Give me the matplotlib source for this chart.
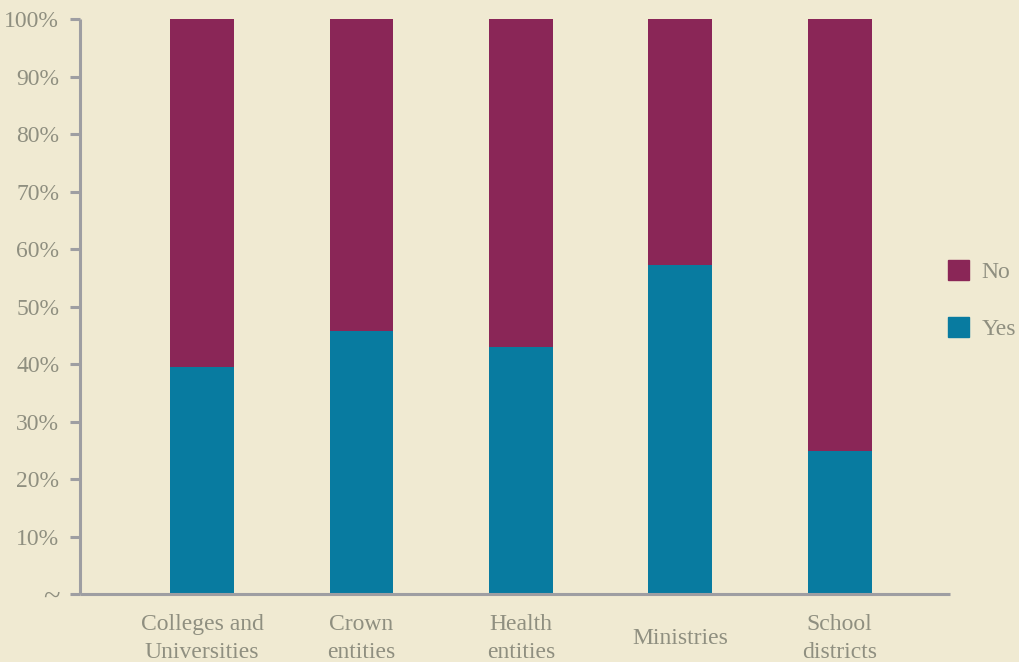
import numpy as np
import matplotlib.pyplot as plt
from matplotlib.patches import Patch

# share of entities answering yes / no, in percent
categories = ["Colleges and\nUniversities", "Crown\nentities", "Health\nentities", "Ministries", "School\ndistricts"]
yes_vals = [39.5, 45.7, 43.0, 57.2, 24.9]
no_vals = [100 - v for v in yes_vals]
tick_vals = [0, 10, 20, 30, 40, 50, 60, 70, 80, 90, 100]
tick_labels = ["~"] + [f"{v}%" for v in tick_vals[1:]]

bg = "#F0EAD2"
teal = "#087BA0"
maroon = "#8A2657"
grey = "#9E9EA2"
txt = "#8F8F80"

plt.rcParams['font.family'] = ['Liberation Serif', 'DejaVu Serif']

fig = plt.figure(figsize=(10.19, 6.62), dpi=100, facecolor=bg)
ax = fig.add_axes([0.0785, 0.1027, 0.8535, 0.8686], facecolor=bg)

x = np.arange(len(categories))
ax.bar(x, yes_vals, width=0.4, color=teal, label="Yes")
ax.bar(x, no_vals, width=0.4, bottom=yes_vals, color=maroon, label="No")

ax.set_xlim(-0.765, 4.69)
ax.set_ylim(0, 100)
ax.set_yticks(tick_vals)
ax.set_yticklabels(tick_labels)
ax.set_xticks(x)
ax.set_xticklabels(categories)

for s in ["top", "right"]:
    ax.spines[s].set_visible(False)
for s in ["left", "bottom"]:
    ax.spines[s].set_color(grey)
    ax.spines[s].set_linewidth(2.2)
    ax.spines[s].set_capstyle("butt")

ax.tick_params(axis='y', colors=grey, labelcolor=txt, length=7, width=2.2, labelsize=17, pad=8)
ax.get_yticklabels()[0].set_fontsize(22)
ax.tick_params(axis='x', length=0, labelcolor=txt, labelsize=17, pad=32)
for lab in ax.get_xticklabels():
    lab.set_linespacing(1.4)
    lab.set_verticalalignment('center')

handles = [Patch(color=maroon, label="No"), Patch(color=teal, label="Yes")]
leg = fig.legend(handles=handles, loc="upper left", bbox_to_anchor=(0.909, 0.64),
                 frameon=False, fontsize=17, labelcolor=txt, handlelength=0.93,
                 handleheight=0.93, labelspacing=1.45, handletextpad=0.5)

fig.savefig("out.png", dpi=100, facecolor=bg)
